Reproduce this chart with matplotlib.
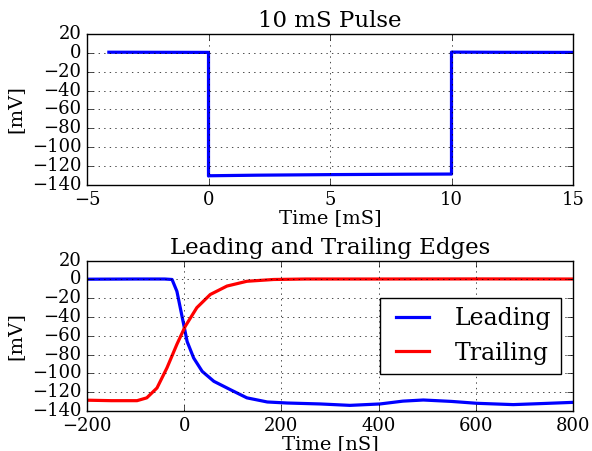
import matplotlib
matplotlib.use("Agg")
import matplotlib.pyplot as plt

plt.style.use("classic")
plt.rcParams["font.family"] = ["DejaVu Serif"]

# Top panel: 10 mS pulse
pulse_t = [-4.1, -2.0, 0.0, 0.0, 0.05, 2.0, 5.0, 8.0, 10.0, 10.0, 12.0, 15.0]
pulse_v = [0.7, 0.6, 0.5, -130.5, -130.2, -129.6, -129.0, -128.6, -128.4, 0.8, 0.6, 0.5]

# Bottom panel: leading and trailing edges
lead_t = [-200, -100, -40, -25, -15, -1, 6, 19.5, 37, 61, 95, 129, 171, 212,
          280, 341, 403, 450, 492, 550, 602, 677, 740, 800]
lead_v = [0.3, 0.5, 0.5, 0.0, -12.6, -48, -66, -83.6, -97.8, -108.4, -117.3, -126,
          -130.4, -131.5, -132.5, -134.0, -132.5, -129.5, -128.3, -129.8, -131.8,
          -133.2, -132.0, -130.8]
trail_t = [-200, -150, -97, -77, -56, -35.4, -15, 2, 26, 53.6, 88, 129, 184,
           250, 400, 600, 800]
trail_v = [-128.5, -129, -129, -126, -115.5, -94, -69, -50, -30, -16, -7, -1.9,
           0.0, 0.5, 0.5, 0.6, 0.5]

yticks = [-140, -120, -100, -80, -60, -40, -20, 0, 20]

fig = plt.figure(figsize=(5.92, 4.51), dpi=100, facecolor="white")
ax1 = fig.add_axes([87 / 592, 1 - 185 / 451, 486 / 592, 151 / 451])
ax2 = fig.add_axes([87 / 592, 1 - 411 / 451, 486 / 592, 150.3 / 451])

ax1.plot(pulse_t, pulse_v, color="blue", lw=2.3)
ax1.set_xlim(-5, 15)
ax1.set_ylim(-140, 20)
ax1.set_yticks(yticks)
ax1.set_xticks([-5, 0, 5, 10, 15])
ax1.set_title("10 mS Pulse", fontsize=16.5)
ax1.set_xlabel("Time [mS]", fontsize=14, labelpad=0)
ax1.set_ylabel("[mV]", fontsize=14)
ax1.grid(True)

ax2.plot(lead_t, lead_v, color="blue", lw=2.3, label="Leading")
ax2.plot(trail_t, trail_v, color="red", lw=2.3, label="Trailing")
ax2.set_xlim(-200, 800)
ax2.set_ylim(-140, 20)
ax2.set_yticks(yticks)
ax2.set_xticks([-200, 0, 200, 400, 600, 800])
ax2.set_title("Leading and Trailing Edges", fontsize=16.5)
ax2.set_xlabel("Time [nS]", fontsize=14, labelpad=0)
ax2.set_ylabel("[mV]", fontsize=14)
ax2.grid(True)
ax2.legend(loc="center right", fontsize=17)

for ax in (ax1, ax2):
    ax.tick_params(labelsize=13)

fig.savefig("out.png", dpi=100, facecolor="white")
